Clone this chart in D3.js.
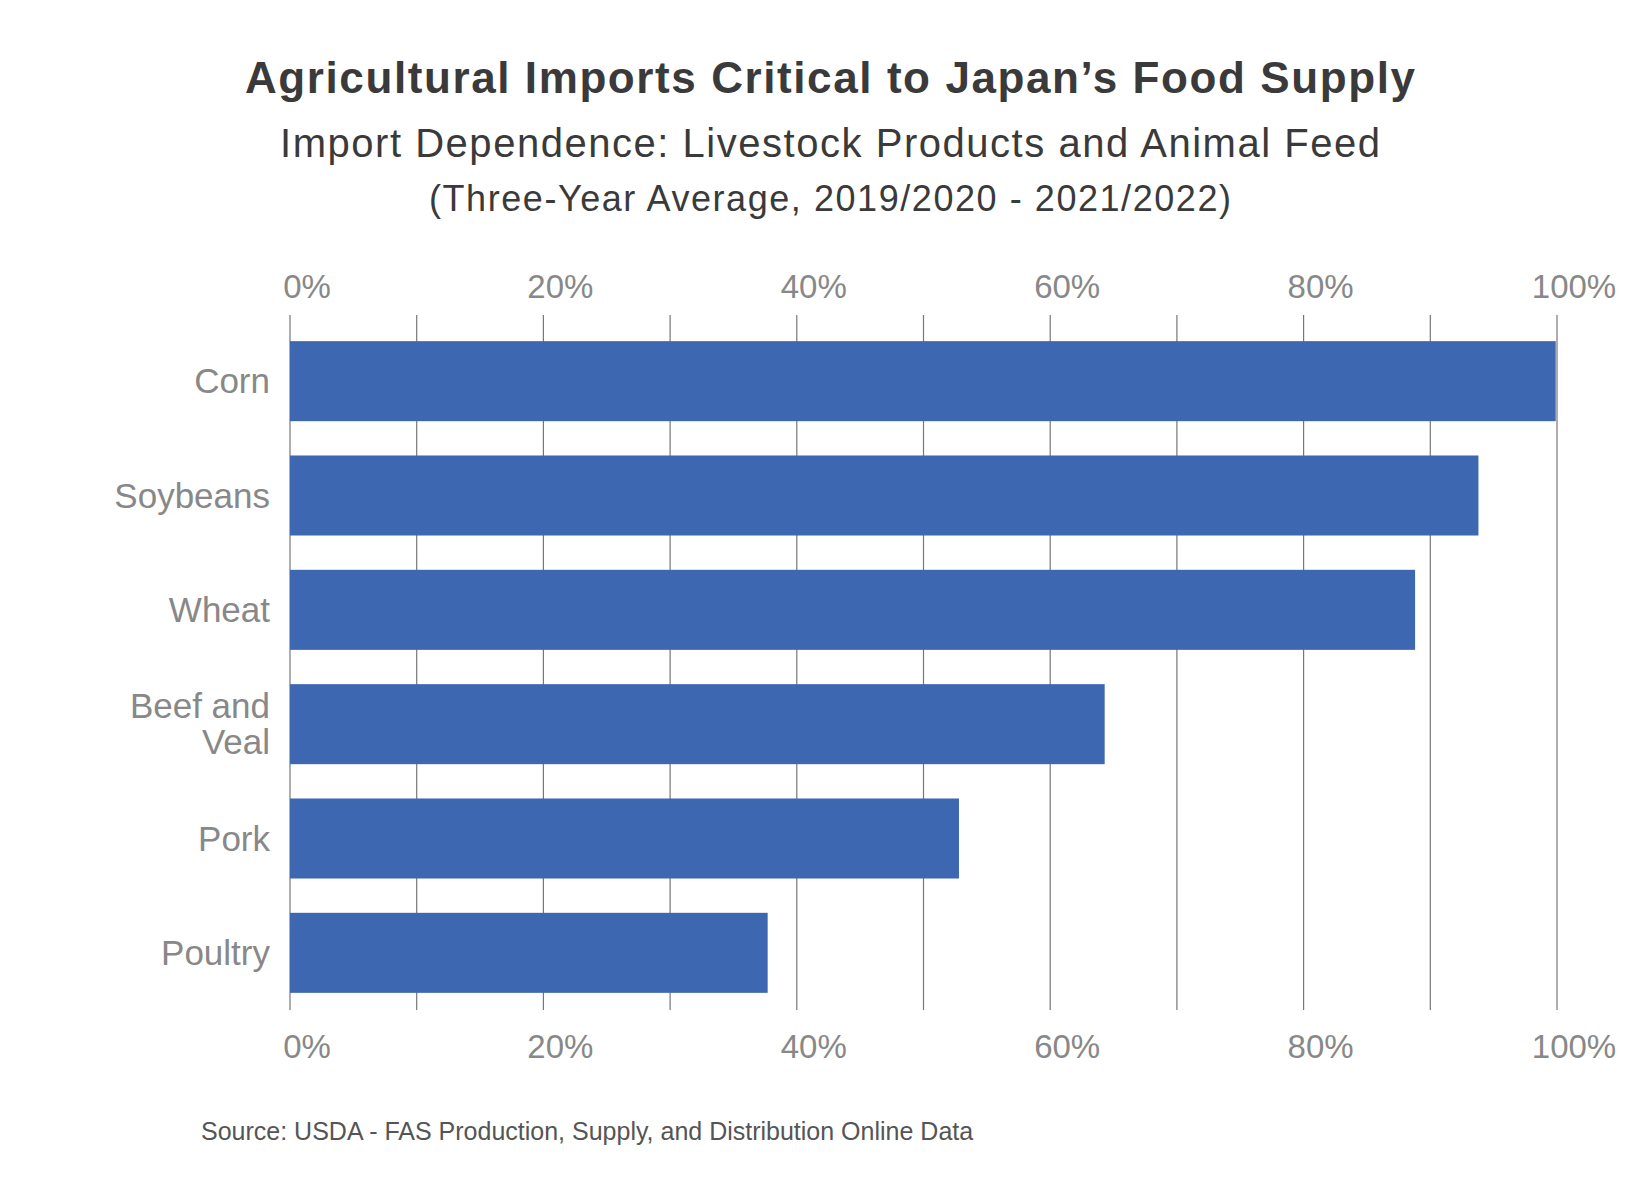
<!DOCTYPE html>
<html><head><meta charset="utf-8">
<script src="https://cdn.jsdelivr.net/npm/d3@7"></script>
<style>body{margin:0;background:#fff}</style></head>
<body><div id="chart"></div>
<script>
var categories = ['Corn', 'Soybeans', 'Wheat', 'Beef and Veal', 'Pork', 'Poultry'];
var values = [99.9, 93.8, 88.8, 64.3, 52.8, 37.7];
var tickValues = [0, 20, 40, 60, 80, 100];

var W = 1651, H = 1185;
var svg = d3.select('#chart').append('svg').attr('width', W).attr('height', H);
var font = 'Liberation Sans, Arial, sans-serif';

var x = d3.scaleLinear().domain([0, 100]).range([290, 1557]);
var y = d3.scaleBand().domain(categories).range([324, 1010]).paddingInner(0.3).paddingOuter(0.15);

// titles
svg.append('text').attr('x', 830).attr('y', 93).attr('text-anchor', 'middle')
    .attr('font-family', font).attr('font-weight', 'bold').attr('font-size', 44).attr('fill', '#3a3a3a')
    .attr('textLength', 1170)
    .text('Agricultural Imports Critical to Japan\u2019s Food Supply');
svg.append('text').attr('x', 830).attr('y', 157).attr('text-anchor', 'middle')
    .attr('font-family', font).attr('font-size', 40).attr('fill', '#3a3a3a')
    .attr('textLength', 1100)
    .text('Import Dependence: Livestock Products and Animal Feed');
svg.append('text').attr('x', 830).attr('y', 211).attr('text-anchor', 'middle')
    .attr('font-family', font).attr('font-size', 36).attr('fill', '#3a3a3a')
    .attr('textLength', 802)
    .text('(Three-Year Average, 2019/2020 - 2021/2022)');

// gridlines
svg.append('g').selectAll('line').data(d3.range(0, 101, 10)).join('line')
    .attr('x1', d => x(d)).attr('x2', d => x(d))
    .attr('y1', 315).attr('y2', 1010)
    .attr('stroke', '#777').attr('stroke-width', 1.2);

// bars
svg.append('g').selectAll('rect').data(categories).join('rect')
    .attr('x', x(0)).attr('y', d => y(d))
    .attr('width', (d, i) => x(values[i]) - x(0))
    .attr('height', y.bandwidth())
    .attr('fill', '#3d67b1');

// axis tick labels (top and bottom)
[298, 1058].forEach(function(ty){
    svg.append('g').selectAll('text').data(tickValues).join('text')
        .attr('x', d => x(d) + 17).attr('y', ty).attr('text-anchor', 'middle')
        .attr('font-family', font).attr('font-size', 33).attr('fill', '#888')
        .text(d => d + '%');
});

// category labels
var labels = svg.append('g');
categories.forEach(function(c){
    var cy = y(c) + y.bandwidth() / 2;
    var lines = c === 'Beef and Veal' ? ['Beef and', 'Veal'] : [c];
    lines.forEach(function(l, j){
        labels.append('text').attr('x', 270)
            .attr('y', cy + 12 + (j - (lines.length - 1) / 2) * 36)
            .attr('text-anchor', 'end').attr('font-family', font)
            .attr('font-size', 35).attr('fill', '#888').text(l);
    });
});

svg.append('text').attr('x', 201).attr('y', 1140)
    .attr('font-family', font).attr('font-size', 25).attr('fill', '#555')
    .text('Source: USDA - FAS Production, Supply, and Distribution Online Data');
</script></body></html>
